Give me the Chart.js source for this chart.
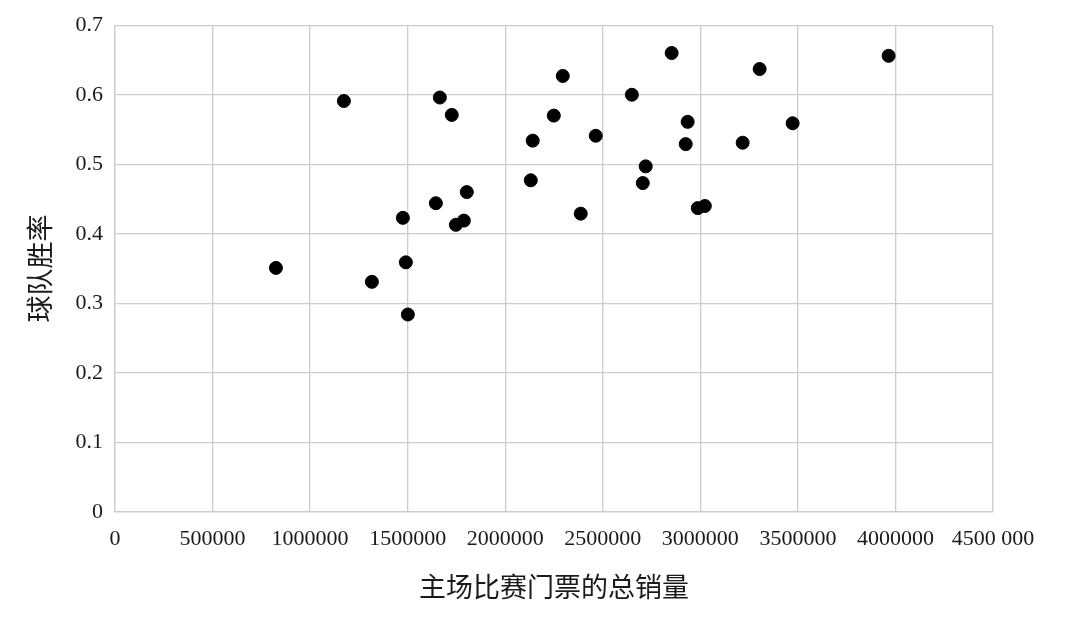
<!DOCTYPE html>
<html>
<head>
<meta charset="utf-8">
<script src="https://cdn.jsdelivr.net/npm/chart.js@4.4.1/dist/chart.umd.min.js"></script>
<style>
  html, body { margin: 0; padding: 0; background: #fff; }
  #wrap { width: 1080px; height: 617px; }
</style>
</head>
<body>
<div id="wrap"><canvas id="myChart"></canvas></div>
<script>
// ticket sales (x) vs win rate (y)
const ticketSales = [
    824800, 1173000, 1316600, 1475400, 1490800, 1501000, 1644500, 1665000, 1726000, 1747000,
    1788000, 1803000, 2131000, 2141000, 2249000, 2295000, 2387000, 2464000, 2649000, 2705000,
    2720000, 2853000, 2925000, 2935000, 2987000, 3023000, 3217000, 3304000, 3473000, 3965000
];
const winRates = [
    0.351, 0.591, 0.331, 0.423, 0.359, 0.284, 0.444, 0.596, 0.571, 0.413,
    0.419, 0.460, 0.477, 0.534, 0.570, 0.627, 0.429, 0.541, 0.600, 0.473,
    0.497, 0.660, 0.529, 0.561, 0.437, 0.440, 0.531, 0.637, 0.559, 0.656
];
const xTickLabels = ['0', '500000', '1000000', '1500000', '2000000', '2500000', '3000000', '3500000', '4000000', '4500 000'];
const yTickLabels = ['0', '0.1', '0.2', '0.3', '0.4', '0.5', '0.6', '0.7'];

const points = ticketSales.map((x, i) => ({ x: x, y: winRates[i] }));

const serif = "'Liberation Serif', 'Times New Roman', serif";
const cjk = "'Liberation Serif', 'Noto Sans CJK SC', serif";
const gridColor = '#cccccc';
const textColor = '#1a1a1a';

const ctx = document.getElementById('myChart').getContext('2d');
const myChart = new Chart(ctx, {
    type: 'scatter',
    data: {
        datasets: [{
            data: points,
            backgroundColor: '#000',
            borderColor: '#000',
            pointRadius: 6.5,
            pointHoverRadius: 7
        }]
    },
    options: {
        responsive: true,
        maintainAspectRatio: false,
        animation: false,
        layout: {
            padding: { left: 0, right: 87, top: 22, bottom: 0 }
        },
        plugins: {
            legend: { display: false },
            tooltip: { enabled: false }
        },
        scales: {
            x: {
                type: 'linear',
                min: 0,
                max: 4500000,
                afterFit: function (scale) { scale.height = 105; },
                afterBuildTicks: function (scale) {
                    scale.ticks = xTickLabels.map((t, i) => ({ value: i * 500000 }));
                },
                ticks: {
                    color: textColor,
                    font: { family: serif, size: 22 },
                    padding: 14,
                    maxRotation: 0,
                    autoSkip: false,
                    callback: function (value, index) {
                        return xTickLabels[index];
                    }
                },
                grid: {
                    color: gridColor,
                    lineWidth: 1.3,
                    drawTicks: false
                },
                border: { color: gridColor, width: 1.3 },
                title: {
                    display: true,
                    text: '主场比赛门票的总销量',
                    color: textColor,
                    font: { family: cjk, size: 27 },
                    padding: { top: 0, bottom: 11 }
                }
            },
            y: {
                type: 'linear',
                min: 0,
                max: 0.7,
                afterFit: function (scale) { scale.width = 115; },
                afterBuildTicks: function (scale) {
                    scale.ticks = yTickLabels.map((t, i) => ({ value: i / 10 }));
                },
                ticks: {
                    color: textColor,
                    font: { family: serif, size: 22 },
                    padding: 12,
                    autoSkip: false,
                    callback: function (value, index) {
                        return yTickLabels[index];
                    }
                },
                grid: {
                    color: gridColor,
                    lineWidth: 1.3,
                    drawTicks: false
                },
                border: { color: gridColor, width: 1.3 },
                title: {
                    display: true,
                    text: '球队胜率',
                    color: textColor,
                    font: { family: cjk, size: 27 },
                    padding: { top: 27, bottom: 0 }
                }
            }
        }
    }
});
</script>
</body>
</html>
